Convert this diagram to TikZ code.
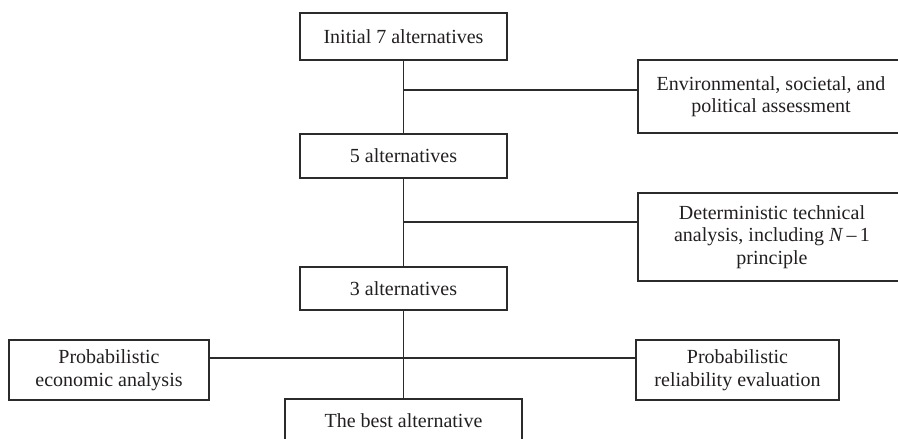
\documentclass[tikz,border=0pt]{standalone}
\usepackage{fontspec}
\setmainfont{Liberation Serif}
\definecolor{linec}{HTML}{2B2B2B}
\definecolor{textc}{HTML}{231F20}
\begin{document}
\begin{tikzpicture}[x=1pt,y=-1pt,
  box/.style={draw=linec, line width=1.6pt, rectangle, inner sep=0pt, align=center,
    font=\fontsize{20}{22.5}\selectfont, text=textc},
  conn/.style={draw=linec, line width=1.6pt}]
\useasboundingbox (0,0) rectangle (898,439);
\clip (0,0) rectangle (898,439);
\node[box, minimum width=207pt, minimum height=47pt] (init) at (403.5,36.5) {Initial 7 alternatives};
\node[box, minimum width=207pt, minimum height=44pt] (five) at (403.5,156) {5 alternatives};
\node[box, minimum width=207pt, minimum height=43pt] (three) at (403.5,288.5) {3 alternatives};
\node[box, minimum width=237pt, minimum height=44pt] (best) at (403.5,421) {The best alternative};
\node[box, minimum width=266pt, minimum height=73pt] (env) at (771,96.5) {Environmental, societal, and\\political assessment};
\node[box, minimum width=268pt, minimum height=88pt] (det) at (772,237) {Deterministic technical\\ analysis, including \textit{N}\,–\,1\\principle};
\node[box, minimum width=200pt, minimum height=60pt] (econ) at (109,370) {Probabilistic\\economic analysis};
\node[box, minimum width=203pt, minimum height=60pt] (rel) at (737.5,370) {Probabilistic\\reliability evaluation};
\coordinate (b1) at (403.5,90);
\coordinate (b2) at (403.5,222);
\coordinate (b3) at (403.5,358);
\draw[conn] (init.south) -- (five.north);
\draw[conn] (five.south) -- (three.north);
\draw[conn] (three.south) -- (best.north);
\draw[conn] (b1) -- (b1 -| env.west);
\draw[conn] (b2) -- (b2 -| det.west);
\draw[conn] (b3 -| econ.east) -- (b3 -| rel.west);
\end{tikzpicture}
\end{document}
